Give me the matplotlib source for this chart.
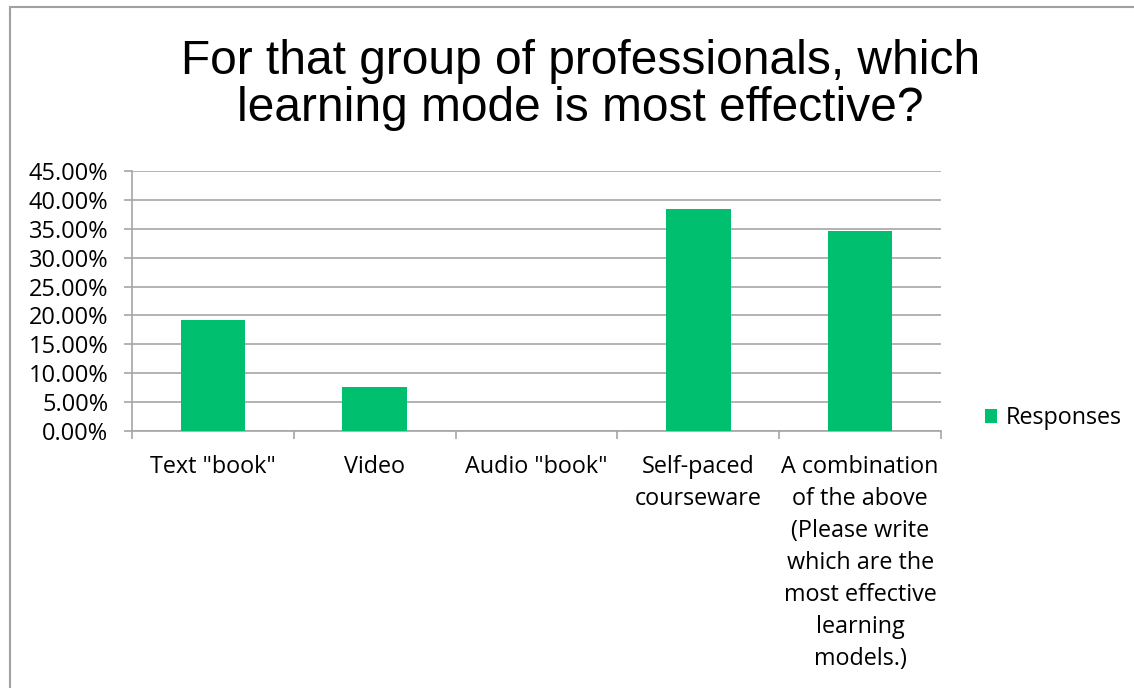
import matplotlib.pyplot as plt
from matplotlib.patches import Rectangle
from matplotlib.ticker import FuncFormatter, MultipleLocator

categories = ['Text "book"', 'Video', 'Audio "book"', 'Self-paced\ncourseware',
              'A combination\nof the above\n(Please write\nwhich are the\nmost effective\nlearning\nmodels.)']
responses = [0.1923, 0.0769, 0.0, 0.3846, 0.3462]

green = '#00BF6F'
grid_grey = '#A6A6A6'

plt.rcParams['font.family'] = ['Open Sans', 'DejaVu Sans']

fig = plt.figure(figsize=(11.34, 6.88), dpi=100)
ax = fig.add_axes([132 / 1134, 1 - 431 / 688, 809 / 1134, 260 / 688])

x = range(len(categories))
ax.bar(x, responses, width=0.4, color=green, label='Responses', zorder=3)

ax.set_xlim(-0.5, len(categories) - 0.5)
ax.set_ylim(0, 0.45)
ax.yaxis.set_major_locator(MultipleLocator(0.05))
ax.yaxis.set_major_formatter(FuncFormatter(lambda v, p: '{:.2f}%'.format(v * 100)))
ax.grid(axis='y', color=grid_grey, linewidth=1.2, zorder=0)

for s in ['top', 'right']:
    ax.spines[s].set_visible(False)
ax.spines['left'].set_color(grid_grey)
ax.spines['bottom'].set_color(grid_grey)
ax.spines['left'].set_linewidth(1.2)
ax.spines['bottom'].set_linewidth(1.2)

# ticks sit between categories, labels sit under the bars
ax.set_xticks([i + 0.5 for i in range(-1, len(categories))], minor=False)
ax.set_xticklabels([])
ax.tick_params(axis='x', which='major', length=6, color=grid_grey, width=1.2)
ax.set_xticks(list(x), minor=True)
ax.set_xticklabels(categories, minor=True, fontsize=16.8, linespacing=1.45, va='top')
ax.tick_params(axis='x', which='minor', length=0, pad=17)
ax.tick_params(axis='y', length=6, color=grid_grey, width=1.2, labelsize=17, pad=11)

fig.text(0.512, 0.943, 'For that group of professionals, which\nlearning mode is most effective?',
         ha='center', va='top', fontsize=34.5, family='Liberation Sans', linespacing=1.05)

ax.legend(loc='center left', bbox_to_anchor=(1.028, 0.05), frameon=False, fontsize=16.8,
          handlelength=0.55, handleheight=0.55, handletextpad=0.35)

# outer chart border
fig.add_artist(Rectangle((10 / 1134, -0.1), 1.2, 1 - 7 / 688 + 0.1, transform=fig.transFigure,
                         fill=False, edgecolor='#A0A0A0', linewidth=1.5))

fig.savefig('out.png', dpi=100, facecolor='white')
